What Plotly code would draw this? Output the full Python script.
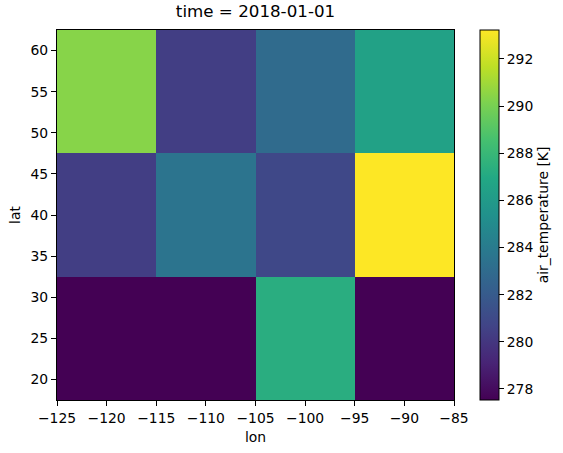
import plotly.graph_objects as go

lon = [-120, -110, -100, -90]
lat = [25, 40, 55]
air_temperature = [
    [277.53, 277.53, 287.3, 277.53],
    [280.4, 283.55, 280.9, 293.23],
    [290.4, 280.4, 283.0, 286.5],
]
xticks = [-125, -120, -115, -110, -105, -100, -95, -90, -85]
yticks = [20, 25, 30, 35, 40, 45, 50, 55, 60]
cbticks = [278, 280, 282, 284, 286, 288, 290, 292]

viridis = [
    [0.0, "#440154"], [0.1, "#482475"], [0.2, "#414487"], [0.3, "#355f8d"],
    [0.4, "#2a788e"], [0.5, "#21918c"], [0.6, "#22a884"], [0.7, "#44bf70"],
    [0.8, "#7ad151"], [0.9, "#bddf26"], [1.0, "#fde725"],
]

font = dict(family="DejaVu Sans", size=13.9, color="black")

fig = go.Figure(go.Heatmap(
    x=lon, y=lat, z=air_temperature,
    colorscale=viridis, zmin=277.53, zmax=293.23,
    colorbar=dict(
        x=1.065, xanchor="left", y=0.5, yanchor="middle", len=1, lenmode="fraction",
        thickness=19, thicknessmode="pixels", xpad=0, ypad=0,
        outlinewidth=1, outlinecolor="black",
        ticks="outside", ticklen=5, tickcolor="black",
        tickvals=cbticks, tickfont=font,
        title=dict(text="air_temperature [K]", side="right", font=font),
    ),
    hovertemplate="lon=%{x}<br>lat=%{y}<br>%{z}<extra></extra>",
))

axis_common = dict(
    showgrid=False, zeroline=False, showline=True, linecolor="black", linewidth=1,
    mirror=True, ticks="outside", ticklen=5, tickcolor="black", tickfont=font,
    automargin=False,
)
fig.update_layout(
    width=563, height=453,
    margin=dict(l=57, r=109, t=30, b=53, autoexpand=False),
    paper_bgcolor="white", plot_bgcolor="white",
    font=font,
    title=dict(text="time = 2018-01-01", x=0.5, xref="paper", xanchor="center",
               y=1, yref="container", yanchor="top", pad=dict(t=5),
               font=dict(family="DejaVu Sans", size=16.7, color="black")),
    xaxis=dict(axis_common, range=[-125, -85], tickvals=xticks,
               title=dict(text="lon", font=font, standoff=7)),
    yaxis=dict(axis_common, range=[17.5, 62.5], tickvals=yticks,
               title=dict(text="lat", font=font, standoff=6)),
)

fig.write_html("out.html", config={"displayModeBar": False},
               post_script="document.body.style.margin='0';document.body.style.overflow='hidden';")
